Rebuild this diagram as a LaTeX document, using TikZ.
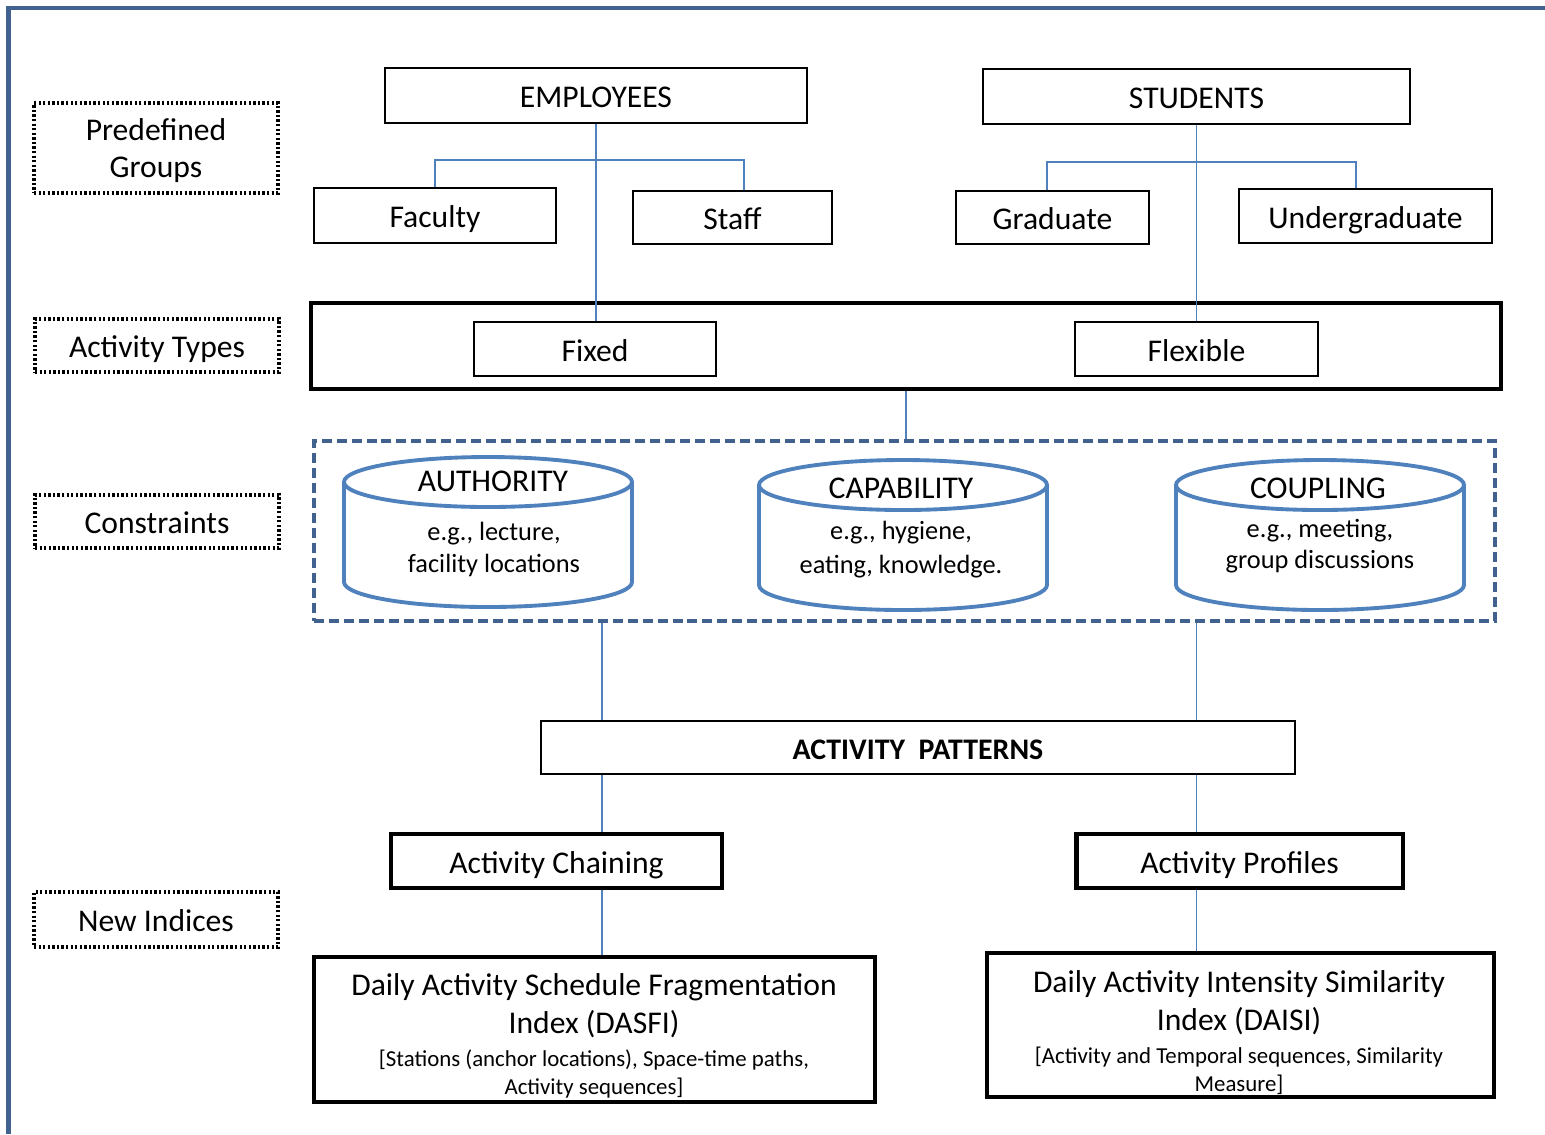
\documentclass[tikz,border=0pt]{standalone}
\usepackage{xcolor}
\usepackage{tikz}
\usetikzlibrary{shapes, arrows.meta, positioning}
\usepackage{fontspec}
\setmainfont{Carlito}

\definecolor{linkblue}{HTML}{4F81BD}
\definecolor{frameblue}{HTML}{41628F}

\tikzset{
    oneline/.style={text height=14pt, text depth=0pt},
    box/.style={draw, rectangle, line width=1.4pt, inner sep=0pt, oneline},
    bigbox/.style={draw, rectangle, line width=2.3pt, inner sep=0pt},
    boldbox/.style={draw, rectangle, line width=2.8pt, inner sep=0pt, oneline},
    tag/.style={draw, rectangle, line width=1.9pt, dash pattern=on 1.3pt off 1.3pt, minimum width=4.88cm, align=center, inner sep=0pt},
    link/.style={draw=linkblue, line width=0.6pt},
    cyl/.style={draw=linkblue, line width=2.2pt, fill=white},
    txt/.style={align=center, inner sep=0pt},
}

\newcommand{\dbcyl}[2]{%
    \draw[cyl] (#1-144,#2) -- (#1-144,#2+100) arc[start angle=180, end angle=0, x radius=144, y radius=25] -- (#1+144,#2);
    \draw[cyl] (#1,#2) ellipse[x radius=144, y radius=25];
}

\begin{document}
\begin{tikzpicture}[x=0.02cm, y=-0.02cm, font=\fontsize{18}{21.6}\selectfont]
            \useasboundingbox (0,0) rectangle (1545,1134);
            \draw[frameblue, line width=2.3pt] (8.5,1134) -- (8.5,8) -- (1545,8);

            % row labels
            \node[tag, minimum height=1.8cm, text depth=-3pt] (lgroups) at (156,148) {Predefined\\Groups};
            \node[tag, oneline, minimum height=1.06cm] (ltypes) at (157,345.5) {Activity Types};
            \node[tag, oneline, minimum height=1.06cm] (lcons) at (157,521.5) {Constraints};
            \node[tag, oneline, minimum height=1.1cm] (lindices) at (156,919.5) {New Indices};

            % groups
            \node[box, minimum width=8.44cm, minimum height=1.1cm] (emp) at (596,95.5) {EMPLOYEES};
            \node[box, minimum width=8.54cm, minimum height=1.1cm] (stud) at (1196.5,96.5) {STUDENTS};
            \node[box, minimum width=4.84cm, minimum height=1.1cm] (fac) at (435,215.5) {Faculty};
            \node[box, minimum width=3.98cm, minimum height=1.06cm] (staff) at (732.5,217.5) {Staff};
            \node[box, minimum width=3.86cm, minimum height=1.06cm] (grad) at (1052.5,217.5) {Graduate};
            \node[box, minimum width=5.06cm, minimum height=1.08cm] (ugrad) at (1365.5,216) {Undergraduate};

            % activity types
            \node[bigbox, minimum width=23.8cm, minimum height=1.72cm] (types) at (906,346) {};
            \node[box, minimum width=4.84cm, minimum height=1.08cm] (fixed) at (595,349) {Fixed};
            \node[box, minimum width=4.86cm, minimum height=1.08cm] (flex) at (1196.5,349) {Flexible};

            % constraints
            \node[draw=frameblue, line width=2.2pt, dash pattern=on 5.7pt off 2.8pt, minimum width=23.62cm, minimum height=3.6cm] (cons) at (904.5,531) {};
            \dbcyl{488}{482}
            \dbcyl{903}{485}
            \dbcyl{1320}{485}
            \node[txt] (auth) at (493,481) {AUTHORITY};
            \node[txt, font=\fontsize{15}{18.2}\selectfont] (authtxt) at (494,549) {e.g., lecture,\\facility locations};
            \node[txt] (capa) at (901,488) {CAPABILITY};
            \node[txt, font=\fontsize{15}{19.3}\selectfont] (capatxt) at (901,550) {e.g., hygiene,\\eating, knowledge.};
            \node[txt] (coup) at (1318,488) {COUPLING};
            \node[txt, font=\fontsize{15}{17.6}\selectfont] (couptxt) at (1320,546) {e.g., meeting,\\group discussions};

            % patterns and indices
            \node[box, minimum width=15.08cm, minimum height=1.06cm, font=\fontsize{17}{20}\selectfont\bfseries] (pat) at (918,747.5) {ACTIVITY~~PATTERNS};
            \node[boldbox, minimum width=6.62cm, minimum height=1.08cm] (chain) at (556.5,861) {Activity Chaining};
            \node[boldbox, minimum width=6.54cm, minimum height=1.08cm] (prof) at (1239.5,861) {Activity Profiles};
            \node[bigbox, minimum width=11.22cm, minimum height=2.9cm] (dasfi) at (594.5,1029.5) {};
            \node[bigbox, minimum width=10.14cm, minimum height=2.88cm] (daisi) at (1240.5,1025) {};
            \node[txt, font=\fontsize{18}{21.6}\selectfont] (dasfititle) at (594,1006) {Daily Activity Schedule Fragmentation\\Index (DASFI)};
            \node[txt, font=\fontsize{13}{16}\selectfont] (dasfinote) at (594,1074) {{[}Stations (anchor locations), Space-time paths,\\Activity sequences{]}};
            \node[txt, font=\fontsize{18}{21.6}\selectfont] (daisititle) at (1239,1003) {Daily Activity Intensity Similarity\\Index (DAISI)};
            \node[txt, font=\fontsize{13}{16}\selectfont] (daisinote) at (1239,1071) {{[}Activity and Temporal sequences, Similarity\\Measure{]}};

            % connectors
            \coordinate (eb) at (744,160);
            \coordinate (gb) at (1047,162);
            \coordinate (ub) at (1356,162);
            \coordinate (cl) at (602,0);
            \coordinate (cr) at (1196.5,0);
            \draw[link] (emp.south) -- (emp.south |- fixed.north);
            \draw[link] (fac.north) |- (eb) -- (eb |- staff.north);
            \draw[link] (stud.south) -- (stud.south |- flex.north);
            \draw[link] (gb |- grad.north) -- (gb) -- (ub) -- (ub |- ugrad.north);
            \draw[link] (types.south) -- (types.south |- cons.north);
            \draw[link] (cl |- cons.south) -- (cl |- pat.north);
            \draw[link] (cr |- cons.south) -- (cr |- pat.north);
            \draw[link] (cl |- pat.south) -- (cl |- chain.north);
            \draw[link] (cr |- pat.south) -- (cr |- prof.north);
            \draw[link] (cl |- chain.south) -- (cl |- dasfi.north);
            \draw[link] (cr |- prof.south) -- (cr |- daisi.north);
\end{tikzpicture}
\end{document}
